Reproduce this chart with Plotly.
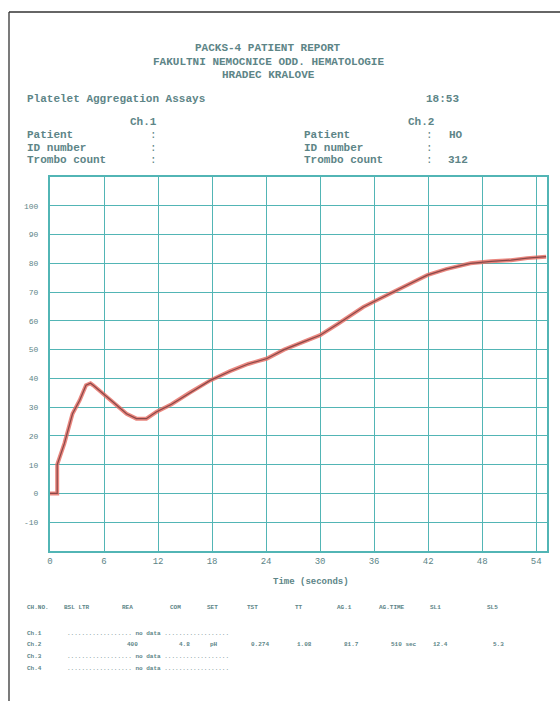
import plotly.graph_objects as go

# ---- data ----
time_s = [0, 0.8, 0.8, 1.6, 2.5, 3.3, 4.0, 4.5, 4.8, 5.7, 7.0, 8.5, 9.6, 10.7, 11.8, 13.5,
          15.5, 17.8, 20, 22, 24.1, 26, 28, 30, 32, 34.8, 36.5, 38.2, 40, 41.9, 44, 46.7,
          49, 51.2, 53, 55.1]
aggregation = [0, 0, 10, 17.4, 27.7, 32.4, 37.6, 38.3, 37.6, 35.3, 31.8, 27.7, 26.0, 26.0, 28.3, 31,
               35, 39.3, 42.5, 45, 46.9, 50, 52.5, 55, 59, 64.8, 67.5, 70.1, 73, 75.9, 78, 80,
               80.7, 81.1, 81.8, 82.3]

x_ticks = [0, 6, 12, 18, 24, 30, 36, 42, 48, 54]
y_ticks = [-10, 0, 10, 20, 30, 40, 50, 60, 70, 80, 90, 100]

title_lines = ["PACKS-4 PATIENT REPORT",
               "FAKULTNI NEMOCNICE ODD. HEMATOLOGIE",
               "HRADEC KRALOVE"]

table_headers = ["CH.NO.", "BSL LTR", "REA", "COM", "SET", "TST", "TT", "AG.1", "AG.TIME", "SL1", "SL5"]
ch2_values = ["400", "4.8", "pH", "0.274", "1.08", "81.7", "510 sec", "12.4", "5.3"]

# ---- layout geometry ----
W, H = 560, 701
L, R, T, B = 50, 13, 177, 150
PW, PH = W - L - R, H - T - B


def px(xp):
    return (xp - L) / PW


def py(yp):
    return (H - B - yp) / PH


TEAL = "#52b5b5"
TXT = "#5d8587"
FONT = "Liberation Mono, Courier New, monospace"

fig = go.Figure()
fig.add_trace(go.Scatter(x=time_s, y=aggregation, mode="lines",
                         line=dict(color="#e56a60", width=4), opacity=0.8,
                         hoverinfo="skip", showlegend=False))
fig.add_trace(go.Scatter(x=time_s, y=aggregation, mode="lines",
                         line=dict(color="#8a4848", width=1.2),
                         showlegend=False))

annotations = []


def text(s, xpix, ypix, size=11, anchor="left", color=TXT):
    annotations.append(dict(text=s, x=px(xpix), y=py(ypix), xref="paper", yref="paper",
                            xanchor=anchor, yanchor="middle", showarrow=False,
                            font=dict(family=FONT, size=size, color=color)))


# header
for i, line in enumerate(title_lines):
    text("<b>" + line + "</b>", 268, 48 + i * 13.5, 11, "center")
text("<b>Platelet Aggregation Assays</b>", 25, 99)
text("<b>18:53</b>", 424, 99)
text("<b>Ch.1</b>", 128, 122)
text("<b>Ch.2</b>", 406, 122)
for i, lab in enumerate(["Patient", "ID number", "Trombo count"]):
    yy = 135 + i * 12.5
    text("<b>" + lab + "</b>", 25, yy)
    text(":", 148, yy)
    text("<b>" + lab + "</b>", 302, yy)
    text(":", 424, yy)
text("<b>HO</b>", 447, 135)
text("<b>312</b>", 446, 160)

# axis title
text("<b>Time (seconds)</b>", 311, 582, 9, "center")

# bottom table
hdr_x = [25, 62, 120, 168, 205, 245, 293, 335, 377, 428, 485]
for h, xx in zip(table_headers, hdr_x):
    text("<b>" + h + "</b>", xx, 607, 6)
rows_y = [633, 644, 656, 668]
for i, yy in enumerate(rows_y):
    text("<b>Ch." + str(i + 1) + "</b>", 25, yy, 6)
dots = "." * 18
for yy in [633, 656, 668]:
    text(dots + " <b>no data</b> " + dots, 65, yy, 6)
val_x = [125, 177, 208, 249, 295, 342, 389, 431, 491]
for v, xx in zip(ch2_values, val_x):
    text("<b>" + v + "</b>", xx, 644, 6)

shapes = [
    dict(type="line", xref="paper", yref="paper", x0=px(9), x1=px(9), y0=py(12), y1=py(701),
         line=dict(color="#333333", width=1.3)),
    dict(type="line", xref="paper", yref="paper", x0=px(9), x1=px(560), y0=py(12), y1=py(12),
         line=dict(color="#333333", width=1.3)),
]

fig.update_layout(
    width=W, height=H,
    margin=dict(l=L, r=R, t=T, b=B),
    paper_bgcolor="white", plot_bgcolor="white",
    annotations=annotations, shapes=shapes,
    showlegend=False,
    xaxis=dict(range=[0, 55.2], tickvals=x_ticks, ticktext=[str(v) for v in x_ticks],
               showgrid=True, gridcolor=TEAL, gridwidth=1.2, zeroline=False,
               showline=True, linecolor=TEAL, linewidth=2, mirror=True, ticks="",
               tickfont=dict(family=FONT, size=9, color=TXT)),
    yaxis=dict(range=[-20, 110], tickvals=y_ticks, ticktext=[str(v) for v in y_ticks],
               showgrid=True, gridcolor=TEAL, gridwidth=1.2, zeroline=False,
               showline=True, linecolor=TEAL, linewidth=2, mirror=True, ticks="",
               ticklabelstandoff=8,
               tickfont=dict(family=FONT, size=8, color=TXT)),
)

fig.write_html("out.html", config={"displayModeBar": False},
               post_script="document.body.style.margin='0';")
